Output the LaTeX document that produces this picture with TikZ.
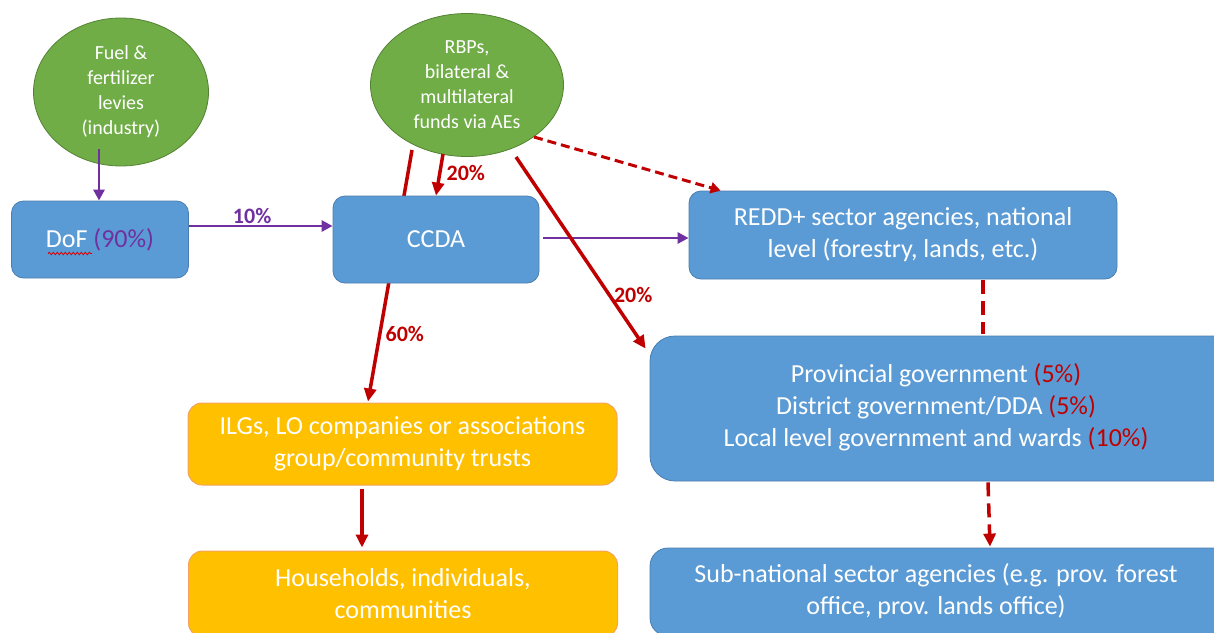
\documentclass[tikz,border=0pt]{standalone}
\usepackage{fontspec}
\setmainfont{Carlito}
\usetikzlibrary{arrows.meta,shapes.geometric,calc,decorations.pathmorphing,backgrounds}
\definecolor{boxblue}{HTML}{5B9BD5}
\definecolor{boxblueline}{HTML}{4A7EB0}
\definecolor{leafgreen}{HTML}{70AD47}
\definecolor{leafline}{HTML}{548235}
\definecolor{amber}{HTML}{FFC000}
\definecolor{amberline}{HTML}{F4A460}
\definecolor{flowred}{HTML}{C00000}
\definecolor{flowpurple}{HTML}{7030A0}
\tikzset{
  bluebox/.style={draw=boxblueline, line width=0.8pt, fill=boxblue, rounded corners=12pt, text=white, align=center, inner sep=0pt, font=\fontsize{26}{32}\selectfont},
  amberbox/.style={draw=amberline, line width=1pt, fill=amber, rounded corners=14pt, text=white, align=center, inner sep=0pt, font=\fontsize{26}{32}\selectfont},
  source/.style={ellipse, draw=leafline, line width=0.8pt, fill=leafgreen, text=white, align=center, inner sep=0pt, font=\fontsize{20}{25}\selectfont},
  redflow/.style={draw=flowred, line width=3.5pt, -{Triangle[length=13pt,width=12pt]}},
  purpleflow/.style={draw=flowpurple, line width=2.8pt, -{Triangle[length=11pt,width=11pt]}},
  reddash/.style={draw=flowred, line width=3.5pt, dash pattern=on 14pt off 7pt},
  reddots/.style={draw=flowred, line width=3pt, dash pattern=on 9pt off 5pt},
  pct/.style={font=\bfseries\fontsize{22}{26}\selectfont, inner sep=1pt}
}
\begin{document}
\begin{tikzpicture}[x=1pt,y=-1pt]
\useasboundingbox (0,0) rectangle (1214,632);
% nodes
\node[source, minimum width=175pt, minimum height=148pt] (fuel) at (121,92) {Fuel \&\\fertilizer\\levies\\(industry)};
\node[source, minimum width=193pt, minimum height=143pt] (rbp) at (467,85) {RBPs,\\bilateral \&\\multilateral\\funds via AEs};
\node[bluebox, minimum width=177pt, minimum height=77pt] (dof) at (100,239.5) {DoF \textcolor{flowpurple}{(90\%)}};
\node[bluebox, minimum width=206pt, minimum height=87pt] (ccda) at (436,239.5) {CCDA};
\node[bluebox, minimum width=428pt, minimum height=88pt] (redd) at (903,235) {REDD+ sector agencies, national\\level (forestry, lands, etc.)};
\node[bluebox, rounded corners=25pt, minimum width=620pt, minimum height=145pt] (prov) at (960,408.5)
  {\begin{tabular}{@{}c@{}}Provincial government \textcolor{flowred}{(5\%)}\\District government/DDA \textcolor{flowred}{(5\%)}\\Local level government and wards \textcolor{flowred}{(10\%)}\end{tabular}\hspace*{48pt}};
\node[bluebox, rounded corners=18pt, minimum width=620pt, minimum height=88pt] (sub) at (960,592)
  {\begin{tabular}{@{}c@{}}Sub-national sector agencies (e.g. prov. forest\\office, prov. lands office)\end{tabular}\hspace*{48pt}};
\node[amberbox, minimum width=429pt, minimum height=82pt] (ilg) at (402.5,444) {ILGs, LO companies or associations\\group/community trusts};
\node[amberbox, minimum width=429pt, minimum height=86pt] (hh) at (403,594) {Households, individuals,\\communities};
% spell-check squiggle under DoF
\draw[red!85!black, line width=0.8pt, decorate, decoration={snake, amplitude=1.2pt, segment length=4pt}] ($(dof.center)+(-52,14)$) -- ($(dof.center)+(-8,14)$);
% connectors
\begin{scope}[on background layer]
\draw[redflow] ($(rbp.center)+(-55,65)$) -- ($(ilg.north)+(-34.5,-1)$)
  node[pct, text=flowred, pos=0.73, right=3pt] (l60) {60\%};
\end{scope}
\draw[purpleflow] ($(fuel.center)+(-22,57)$) -- ($(dof.north)+(-1,0)$);
\draw[purpleflow] ($(dof.east)+(0,-13.5)$) -- ($(ccda.west)+(0,-13.5)$)
  node[pct, text=flowpurple, pos=0.44, above=0pt] (l10) {10\%};
\draw[purpleflow] ($(ccda.east)+(4,-1.5)$) -- ($(redd.west)+(0,3)$);
\draw[redflow] ($(rbp.center)+(-24,69)$) -- (ccda.north)
  node[pct, text=flowred, pos=0.45, right=4pt] (l20a) {20\%};
\draw[redflow] ($(rbp.center)+(49,72)$) -- ($(prov.north west)+(-4,13)$)
  node[pct, text=flowred, pos=0.72, right=2pt] (l20b) {20\%};
\draw[reddots, -{Triangle[length=10pt,width=11pt]}] ($(rbp.center)+(67,52)$) -- ($(redd.north west)+(32,0)$);
\draw[reddash] ($(redd.south)+(80,1)$) -- ($(prov.north)+(23,-2)$);
\draw[reddash, -{Triangle[length=13pt,width=12pt]}] ($(prov.south)+(28,1)$) -- ($(sub.north)+(30,-1)$);
\draw[redflow] ($(ilg.south)+(-40.5,3)$) -- ($(hh.north)+(-41,-3)$);
\end{tikzpicture}
\end{document}
